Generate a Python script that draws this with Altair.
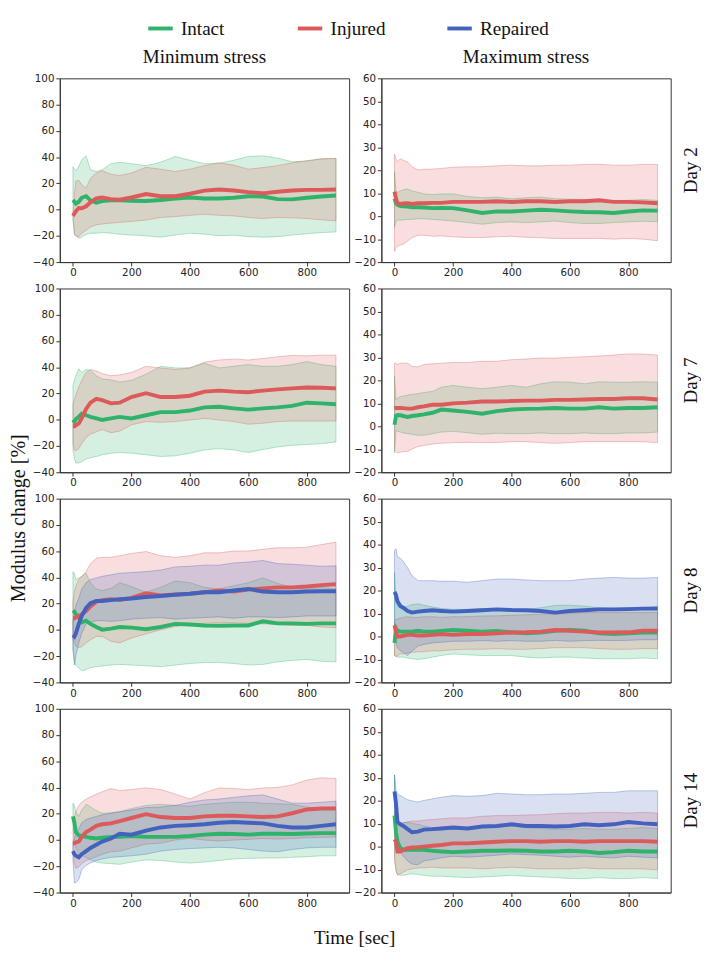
import altair as alt
import pandas as pd

# ---------------------------------------------------------------- data
TIME = [0, 5, 10, 20, 30, 45, 60, 80, 100, 130, 160, 200, 250, 300, 350,
        400, 450, 500, 550, 600, 650, 700, 750, 800, 850, 900]
GROUPS = ["Intact", "Injured", "Repaired"]
COLORS = ["#2fb36b", "#dc5a5a", "#4262bd"]
DAYS = ["Day 2", "Day 7", "Day 8", "Day 14"]
STRESS = ["Minimum stress", "Maximum stress"]
Y_TITLE = "Modulus change [%]"
X_TITLE = "Time [sec]"
Y_DOMAIN_MIN = [-40, 100]
Y_DOMAIN_MAX = [-20, 60]
Y_TICKS_MIN = [-40, -20, 0, 20, 40, 60, 80, 100]
Y_TICKS_MAX = [-20, -10, 0, 10, 20, 30, 40, 50, 60]
X_TICKS = [0, 200, 400, 600, 800]

D2_MIN_INTACT_MEAN = [7.3, 6, 4.5, 6, 9, 10.2, 7, 5.3, 6.5, 7, 7, 6.8, 6.5, 7.3, 8.5, 9.2, 8.5, 8.5, 9, 10.2, 10, 8, 7.8, 9, 10, 10.7]
D2_MIN_INTACT_LO = [-8, -18, -20, -22, -21, -19, -18, -18, -17.5, -18, -18.7, -19.4, -20, -21, -19.4, -18, -18.7, -19.9, -19.5, -20.6, -21, -20.6, -19.4, -18.4, -17.5, -17]
D2_MIN_INTACT_HI = [32.7, 31, 29.8, 33, 38, 41, 30.3, 29, 30.3, 35, 36, 35, 33.5, 36, 40.5, 37.6, 35, 35.4, 37.6, 40.5, 41, 39.3, 36.4, 37, 38.8, 39]
D2_MIN_INJURED_MEAN = [-4.8, -3, -1.2, 1.2, 1, 2.5, 5.5, 8.5, 9.2, 8, 7.5, 9.2, 11.9, 10.2, 10.2, 12.1, 14.5, 15.3, 14.5, 13.3, 12.4, 13.6, 14.5, 15, 15, 15.3]
D2_MIN_INJURED_LO = [-5, -19.4, -20, -20.8, -18, -15.8, -13.3, -11.6, -11, -10.3, -9.7, -9, -8, -6, -5.3, -4.4, -3.6, -4.4, -4.8, -6, -6.8, -6, -6.3, -6.8, -7.8, -8.5]
D2_MIN_INJURED_HI = [-4, 12, 21.8, 22.3, 19, 16.2, 23.8, 27.9, 29.6, 27, 26, 27.9, 32.2, 30.8, 29, 30.8, 33.5, 35.6, 33.9, 30.8, 32, 33.5, 35.6, 37.3, 38.5, 39]
D2_MAX_INTACT_MEAN = [7.6, 5.6, 4.9, 4.4, 4.3, 4.2, 3.9, 3.9, 3.75, 3.5, 3.6, 3.5, 2.5, 1.4, 2.1, 2, 2.4, 2.8, 2.5, 2.1, 1.8, 1.7, 1.4, 2, 2.5, 2.4]
D2_MAX_INTACT_LO = [-4.9, -2.1, -1.7, -1.8, -1.6, -1.4, -1.4, -1.1, -1.1, -1.4, -1.7, -2.1, -2.8, -3.5, -2.8, -2.5, -2.8, -2.5, -2.1, -2.8, -3.2, -3.2, -2.8, -2.5, -2.2, -2.4]
D2_MAX_INTACT_HI = [19.4, 11, 10.4, 11, 11.5, 11.8, 11, 10.4, 9.7, 9.4, 9.7, 9.7, 8.6, 8, 8.3, 7.6, 8, 8.3, 7.6, 7.4, 7.2, 6.9, 6.5, 6.9, 7.2, 6.9]
D2_MAX_INJURED_MEAN = [10.7, 7.6, 5.6, 5.3, 5.5, 5.6, 5.3, 5.6, 5.6, 5.8, 5.8, 6.2, 6.2, 6.2, 6.5, 6.2, 6.5, 6.5, 6.2, 6.5, 6.5, 6.9, 6.2, 6.2, 6, 5.6]
D2_MAX_INJURED_LO = [-15.3, -13.6, -13.2, -12.5, -12.2, -10.8, -9.4, -8.3, -8.3, -8.75, -8.6, -9, -9.3, -9.3, -9, -8.75, -9.2, -9.4, -9.7, -9.7, -9.7, -9.7, -10, -9.7, -10, -10.7]
D2_MAX_INJURED_HI = [27, 25, 23.6, 25, 24.3, 23.6, 21.5, 20.1, 20.4, 20.5, 20.8, 21.3, 21.5, 21.5, 21.9, 22.2, 21.9, 21.9, 22.2, 22.2, 22.5, 22.6, 22.2, 22.2, 22.5, 22.5]
D7_MIN_INTACT_MEAN = [0, -1.4, 0.5, 2.2, 4.6, 3.4, 2.2, 1, -0.2, 1, 2.2, 1, 3.4, 5.8, 5.8, 7, 9.4, 9.9, 8.7, 7.7, 8.7, 9.4, 10.6, 13, 12.5, 11.8]
D7_MIN_INTACT_LO = [-23, -30, -33, -33, -32, -30, -29, -28, -26.7, -25.5, -25, -25.5, -26.7, -28, -27.5, -25.5, -23, -22, -23, -25, -22.7, -20.7, -19.5, -18.8, -18.3, -16.9]
D7_MIN_INTACT_HI = [26.3, 30, 34, 38.8, 36, 38.3, 37.6, 33.5, 31, 30.4, 28.7, 30, 34.7, 40.7, 39.5, 39.5, 43, 39.5, 40.7, 42, 40.7, 40.7, 42, 44.3, 42, 40.7]
D7_MIN_INJURED_MEAN = [-5, -5, -4.3, -2.7, 1, 8.2, 13, 15.9, 14.9, 12.5, 13, 17.3, 20.2, 17.3, 17.3, 18.3, 21.4, 22.2, 21.4, 21, 22.2, 23.1, 23.9, 24.6, 24.4, 23.9]
D7_MIN_INJURED_LO = [-18.3, -23, -23.6, -22, -18.3, -13.5, -11, -9.2, -7.5, -9.9, -8.7, -3.9, -1.4, -2, -1.4, -0.2, 1, -0.2, -1.4, -3.4, -2.7, -1.4, -1, -1, -1, -1]
D7_MIN_INJURED_HI = [11.8, 15.4, 19, 25, 29.9, 36, 38.3, 37.1, 35.2, 33.5, 34.2, 36, 40.7, 39.5, 38.3, 39.5, 43.9, 45.5, 46.3, 45.5, 46.7, 48, 49, 48.7, 49.2, 49.2]
D7_MAX_INTACT_MEAN = [0.7, 4.5, 4.9, 4.8, 4.5, 4.1, 4.5, 4.8, 5.2, 5.9, 7.3, 6.9, 6.3, 5.5, 6.6, 7.3, 7.6, 7.7, 8, 7.7, 7.7, 8.3, 7.7, 8, 8, 8.3]
D7_MAX_INTACT_LO = [-11.6, -1.8, -2.1, -2.5, -2.9, -3.2, -3.5, -3.9, -3.9, -3.2, -2.5, -2.2, -2.8, -3.5, -3, -3.2, -3.2, -2.9, -3.2, -3.2, -2.9, -3.2, -3.2, -2.9, -2.9, -2.5]
D7_MAX_INTACT_HI = [22, 11.5, 12.2, 12.9, 13.2, 13.6, 13.9, 14.2, 14.7, 15.2, 17, 17.8, 17, 16.4, 17, 17.8, 17, 18.5, 19.4, 19.2, 18.5, 19.4, 19.2, 19.2, 19.4, 19.2]
D7_MAX_INJURED_MEAN = [7.7, 8, 8, 8, 7.9, 7.7, 7.7, 8.3, 8.7, 9.4, 9.4, 10, 10.3, 10.8, 10.8, 11, 11.2, 11.2, 11.5, 11.5, 11.7, 11.9, 11.9, 12.2, 12.2, 11.7]
D7_MAX_INJURED_LO = [-10.2, -10.9, -11.6, -11.3, -11, -10.9, -9.9, -8.8, -8.4, -7.7, -7.4, -7.1, -7, -7.1, -7, -6.7, -6.7, -7.1, -7.4, -7.1, -6.7, -6.7, -6.7, -6.7, -6.7, -7.1]
D7_MAX_INJURED_HI = [27.5, 27.5, 26.9, 27.5, 27.5, 27.5, 26.1, 25.9, 26.9, 27.2, 27.5, 27.8, 27.8, 28.3, 28.3, 29, 29.3, 29.7, 29.7, 30, 30.3, 30.6, 31, 31.5, 31.5, 31]
D8_MIN_INTACT_MEAN = [14.7, 13.8, 11.8, 9.4, 5.8, 7, 4.6, 2.2, 0.2, 1, 2.2, 1.7, 0.5, 2.2, 4.6, 4.1, 3.4, 3.1, 3.4, 3.4, 6.5, 5, 5, 4.6, 5, 5]
D8_MIN_INTACT_LO = [-14.7, -24.4, -26.8, -29.2, -31.2, -30.4, -28.7, -28, -27.5, -26.8, -26.3, -26.8, -27.3, -28, -26.8, -25.6, -24.9, -24.9, -25.6, -26.8, -26.3, -24.4, -23.2, -22.5, -23.9, -24.4]
D8_MIN_INTACT_HI = [44.4, 43.2, 38.4, 39.6, 40.8, 43.2, 36, 31.2, 30, 31.6, 36, 33, 28.7, 32.4, 37.2, 36, 32.4, 31.2, 33.6, 36, 39.6, 35.5, 32.4, 31.2, 32.4, 31.2]
D8_MIN_INJURED_MEAN = [8.9, 8.9, 9.4, 10.6, 11.8, 14.3, 17.9, 21.5, 22.7, 23.4, 22.7, 24.4, 28, 26.3, 27, 27.5, 28.7, 30, 29.2, 30.7, 31.6, 32.4, 32.4, 33.1, 34.1, 34.8]
D8_MIN_INJURED_LO = [-7.5, -9.9, -12.3, -13.5, -12.8, -9.9, -7.5, -5, -5, -8.7, -9.9, -6.3, -3, 0, 2.5, 4, 5, 5.5, 5.5, 5, 4.6, 4.1, 3.4, 3.4, 2.2, 1.7]
D8_MIN_INJURED_HI = [21.5, 28.7, 33.6, 38.4, 40.8, 44.4, 50.5, 54.6, 55.3, 55.3, 56.5, 58.2, 59.7, 56.5, 55.3, 56.5, 58.7, 58.7, 60.1, 60.1, 61.4, 62.6, 62.6, 63, 65, 66.9]
D8_MIN_REPAIRED_MEAN = [-3.9, -5, -2.7, 4.6, 10.6, 16.7, 20.3, 22, 22, 22.7, 23.4, 23.9, 25.1, 25.8, 26.8, 27.5, 28.7, 28.7, 30, 31.2, 29.2, 28.7, 28.7, 29.2, 29.5, 29.5]
D8_MIN_REPAIRED_LO = [-14.7, -26.8, -19.6, -9.9, -2.7, 4.6, 5.8, 7, 7, 6.5, 7, 8.2, 8.9, 9.4, 8.2, 8.9, 9.4, 9.9, 8.9, 9.9, 9.9, 9.4, 9.9, 10.6, 10.6, 10.6]
D8_MIN_REPAIRED_HI = [7, 11.8, 19, 23.9, 31.2, 36, 38.4, 39.6, 40.8, 42, 43.2, 43.7, 44.4, 45.6, 48, 48.5, 49.3, 49.3, 51, 51.7, 52.9, 50.5, 50, 49.3, 48.5, 48.8]
D8_MAX_INTACT_MEAN = [-2.8, 3.5, 2.5, 2.1, 2.1, 2.1, 2.1, 2.5, 2.1, 2.1, 2.4, 2.8, 2.5, 2.1, 2.4, 1.8, 1.4, 1.7, 2.5, 2.8, 2.5, 1.4, 1.1, 1.4, 1.7, 1.7]
D8_MAX_INTACT_LO = [-8.3, -8.3, -9, -9, -9, -9.4, -9.7, -10, -9.7, -9, -8.3, -7.6, -8, -8.3, -8.3, -8.3, -9, -9.4, -9, -9, -9.4, -9.7, -9.7, -9.7, -9.4, -9.7]
D8_MAX_INTACT_HI = [27.8, 15.3, 13.2, 12.5, 12.5, 13.2, 13.9, 14.2, 13.6, 12.8, 12.2, 11.8, 11.8, 12.2, 11.8, 11.8, 11.8, 12.5, 13.5, 13.6, 13.2, 12.5, 12.2, 12.5, 12.5, 13.2]
D8_MAX_INJURED_MEAN = [4.9, 2.1, 0, 0, 0.3, 0.7, 0.7, 0.4, 0.4, 0.7, 1, 0.7, 1.1, 1.1, 1.4, 1.7, 1.8, 2.1, 2.8, 2.5, 2.1, 1.7, 1.7, 1.8, 2.5, 2.5]
D8_MAX_INJURED_LO = [-8.3, -9, -8.3, -7.6, -7.6, -7.2, -6.9, -6.7, -6.6, -6.25, -6.25, -5.8, -5.6, -5.6, -5.3, -5.6, -5.6, -5.3, -4.9, -4.9, -4.9, -5.3, -5.6, -5.6, -5.3, -5.3]
D8_MAX_INJURED_HI = [5.6, 7.6, 7.6, 8, 8.3, 8.6, 8.3, 8.3, 8.6, 8.6, 8.3, 8.6, 8.6, 8.9, 9, 9.2, 9.4, 9.7, 9.7, 10, 10.4, 10.4, 10.4, 10.4, 10.4, 10.4]
D8_MAX_REPAIRED_MEAN = [19.4, 18, 15.3, 13.2, 12.5, 11.1, 10.4, 10.8, 11.1, 11.4, 11.1, 10.8, 11.1, 11.4, 11.8, 11.5, 11.4, 11.1, 10.4, 11.1, 11.4, 11.8, 11.8, 11.9, 12.1, 12.1]
D8_MAX_REPAIRED_LO = [1.4, -2.8, -4.9, -6.25, -6.9, -8.3, -6.25, -4.2, -3.5, -2.8, -2.5, -2.1, -2.1, -1.8, -2.1, -1.8, -2.1, -2.1, -1.7, -2.1, -1.8, -1.7, -1.8, -1.7, -1.4, -1.4]
D8_MAX_REPAIRED_HI = [37.5, 38.2, 34.7, 34, 32.6, 29.9, 26.4, 24.3, 24.3, 24.3, 24, 24, 23.6, 24.3, 25, 25, 24.6, 24.3, 24.3, 24.3, 25, 25.4, 25.7, 25.4, 25.4, 25.7]
D14_MIN_INTACT_MEAN = [18, 13.2, 6, 3.6, 3.1, 2.4, 1.7, 1.2, 1.7, 2.4, 2.4, 3.1, 2.4, 2.4, 2.4, 3.1, 4.1, 4.8, 4.6, 4.1, 4.8, 4.8, 4.6, 5, 5.3, 5.3]
D14_MIN_INTACT_LO = [8.4, -1.2, -6, -10.8, -12, -13.2, -15.1, -16.8, -17.5, -18, -18.5, -16.8, -15.1, -15.6, -16.8, -17.5, -16.8, -15.6, -14.4, -13.9, -13.7, -13.7, -13.2, -12.7, -12, -12]
D14_MIN_INTACT_HI = [28.1, 26.4, 21.6, 18, 22.8, 27.2, 25.2, 22.4, 20.4, 20.8, 21.6, 24, 26.4, 27.2, 26.4, 25.7, 27.2, 28.1, 28.8, 28.8, 28.1, 27.6, 27.2, 25.2, 24, 23.3]
D14_MIN_INJURED_MEAN = [-2.4, -2.4, -1.7, -1.2, 2.4, 6, 7.9, 10.8, 12, 12.7, 14.4, 16.8, 19.7, 17.5, 16.8, 16.8, 18, 18.5, 18.5, 18, 17.5, 18, 20.4, 23.3, 24, 24]
D14_MIN_INJURED_LO = [-10.8, -18, -21.6, -20.4, -18, -15.6, -14.4, -12.7, -10.8, -8.9, -8.4, -6, -3.1, -2.4, 0, 1.2, 0, -0.7, 0, 0.5, 1.2, 0.7, 1.2, 1.7, 2, 2.4]
D14_MIN_INJURED_HI = [6, 16.8, 21.6, 26.4, 28.8, 31.2, 32.9, 34.9, 36.8, 39.2, 37.7, 38.5, 39.7, 38.5, 35.1, 31.2, 36.1, 39.7, 39.2, 38.5, 39.7, 40.1, 42, 45.7, 47.4, 46.9]
D14_MIN_REPAIRED_MEAN = [-8.4, -10.8, -12, -13.2, -10.8, -8.4, -6, -3.6, -1.2, 1.2, 4.8, 4.1, 7.2, 9.6, 10.8, 11.3, 12, 13.2, 13.7, 13.2, 12.7, 10.8, 9.6, 9.6, 10.8, 12]
D14_MIN_REPAIRED_LO = [-15.6, -32.5, -32.5, -30, -22.8, -19.2, -17.5, -15.6, -14.4, -13.2, -12.7, -12, -10.8, -8.4, -7.2, -6.5, -6, -5.5, -6, -7.2, -8.4, -8.9, -7.2, -6, -5.5, -5.5]
D14_MIN_REPAIRED_HI = [-1.2, 1.2, 4.8, 8.4, 13.2, 15.6, 16.8, 18, 19.2, 20.4, 21.6, 22.8, 24.8, 25.2, 26.4, 28.8, 30.5, 31.2, 32.5, 33.7, 34.4, 31.2, 28.1, 28.1, 28.8, 29.6]
D14_MAX_INTACT_MEAN = [13.5, 6.25, 2.1, -0.7, -1.4, -1.4, -1.4, -1.4, -1.4, -1.8, -2.1, -2.4, -2.1, -1.8, -1.8, -1.7, -1.8, -2.1, -2.1, -1.8, -2.1, -2.8, -2.4, -1.8, -2.1, -2.1]
D14_MAX_INTACT_LO = [-3.5, -10.4, -12.1, -12.5, -12.5, -12.1, -11.8, -12.1, -12.5, -12.9, -12.9, -13.2, -13.5, -13.2, -12.9, -12.5, -12.9, -13.2, -13.5, -13.9, -13.9, -13.5, -13.9, -13.9, -13.5, -13.9]
D14_MAX_INTACT_HI = [31.25, 15.9, 10.4, 9.7, 10.4, 10.7, 10.1, 9.7, 9, 8.3, 7.9, 7.4, 7.6, 8.3, 8.75, 9, 8.3, 7.9, 7.6, 7.6, 7.9, 7.6, 7.6, 7.9, 8.3, 7.9]
D14_MAX_INJURED_MEAN = [3.2, 2.1, -2.1, -2.1, -1.4, -0.7, -0.4, -0.3, 0, 0.4, 0.7, 1.4, 1.4, 1.8, 2.1, 2.4, 2.4, 2.1, 2.4, 2.4, 2.1, 2.4, 2.4, 2.4, 2.4, 2.1]
D14_MAX_INJURED_LO = [-6.25, -10.4, -12.5, -11.8, -11.1, -10.1, -9.7, -9.3, -9.3, -9, -9.3, -9.3, -9.3, -9.7, -9.3, -9, -9.3, -9.7, -9.7, -9.7, -9.3, -9.7, -9.7, -9.7, -9.7, -10.1]
D14_MAX_INJURED_HI = [14.6, 13.2, 10.4, 10.1, 10.4, 10.7, 11.1, 11.1, 11.5, 11.8, 12.1, 12.5, 12.5, 13.2, 13.5, 13.5, 13.75, 13.9, 14.3, 14.6, 14.6, 14.9, 14.9, 14.6, 14.9, 14.6]
D14_MAX_REPAIRED_MEAN = [24, 18.75, 10.7, 9.7, 9, 7.6, 6.25, 6.5, 7.4, 7.6, 7.9, 8.3, 7.9, 8.75, 9, 9.7, 9, 9, 8.75, 9, 9.7, 9.3, 9.7, 10.7, 10.1, 9.7]
D14_MAX_REPAIRED_LO = [14.6, 2.1, 0, -2.1, -4.2, -6.25, -7.6, -7.9, -6.25, -5.6, -4.9, -4.2, -4.6, -4.2, -3.75, -3.2, -3.5, -3.75, -4.2, -4.6, -4.2, -4.6, -4.9, -4.2, -4.6, -4.9]
D14_MAX_REPAIRED_HI = [31.25, 24.3, 22.9, 22.2, 21.5, 20.4, 19.9, 19.4, 20.1, 20.8, 21.5, 22.2, 21.9, 22.2, 23.2, 22.9, 22.6, 22.6, 22.9, 22.9, 23.2, 23.6, 23.6, 24.3, 24.3, 24.3]

SERIES = {
    ("Day 2", "Minimum stress", "Intact"): (D2_MIN_INTACT_MEAN, D2_MIN_INTACT_LO, D2_MIN_INTACT_HI),
    ("Day 2", "Minimum stress", "Injured"): (D2_MIN_INJURED_MEAN, D2_MIN_INJURED_LO, D2_MIN_INJURED_HI),
    ("Day 2", "Maximum stress", "Intact"): (D2_MAX_INTACT_MEAN, D2_MAX_INTACT_LO, D2_MAX_INTACT_HI),
    ("Day 2", "Maximum stress", "Injured"): (D2_MAX_INJURED_MEAN, D2_MAX_INJURED_LO, D2_MAX_INJURED_HI),
    ("Day 7", "Minimum stress", "Intact"): (D7_MIN_INTACT_MEAN, D7_MIN_INTACT_LO, D7_MIN_INTACT_HI),
    ("Day 7", "Minimum stress", "Injured"): (D7_MIN_INJURED_MEAN, D7_MIN_INJURED_LO, D7_MIN_INJURED_HI),
    ("Day 7", "Maximum stress", "Intact"): (D7_MAX_INTACT_MEAN, D7_MAX_INTACT_LO, D7_MAX_INTACT_HI),
    ("Day 7", "Maximum stress", "Injured"): (D7_MAX_INJURED_MEAN, D7_MAX_INJURED_LO, D7_MAX_INJURED_HI),
    ("Day 8", "Minimum stress", "Intact"): (D8_MIN_INTACT_MEAN, D8_MIN_INTACT_LO, D8_MIN_INTACT_HI),
    ("Day 8", "Minimum stress", "Injured"): (D8_MIN_INJURED_MEAN, D8_MIN_INJURED_LO, D8_MIN_INJURED_HI),
    ("Day 8", "Minimum stress", "Repaired"): (D8_MIN_REPAIRED_MEAN, D8_MIN_REPAIRED_LO, D8_MIN_REPAIRED_HI),
    ("Day 8", "Maximum stress", "Intact"): (D8_MAX_INTACT_MEAN, D8_MAX_INTACT_LO, D8_MAX_INTACT_HI),
    ("Day 8", "Maximum stress", "Injured"): (D8_MAX_INJURED_MEAN, D8_MAX_INJURED_LO, D8_MAX_INJURED_HI),
    ("Day 8", "Maximum stress", "Repaired"): (D8_MAX_REPAIRED_MEAN, D8_MAX_REPAIRED_LO, D8_MAX_REPAIRED_HI),
    ("Day 14", "Minimum stress", "Intact"): (D14_MIN_INTACT_MEAN, D14_MIN_INTACT_LO, D14_MIN_INTACT_HI),
    ("Day 14", "Minimum stress", "Injured"): (D14_MIN_INJURED_MEAN, D14_MIN_INJURED_LO, D14_MIN_INJURED_HI),
    ("Day 14", "Minimum stress", "Repaired"): (D14_MIN_REPAIRED_MEAN, D14_MIN_REPAIRED_LO, D14_MIN_REPAIRED_HI),
    ("Day 14", "Maximum stress", "Intact"): (D14_MAX_INTACT_MEAN, D14_MAX_INTACT_LO, D14_MAX_INTACT_HI),
    ("Day 14", "Maximum stress", "Injured"): (D14_MAX_INJURED_MEAN, D14_MAX_INJURED_LO, D14_MAX_INJURED_HI),
    ("Day 14", "Maximum stress", "Repaired"): (D14_MAX_REPAIRED_MEAN, D14_MAX_REPAIRED_LO, D14_MAX_REPAIRED_HI),
}

rows = []
for (day, stress, group), (mean, lo, hi) in SERIES.items():
    for t, m, l, h in zip(TIME, mean, lo, hi):
        rows.append({"day": day, "stress": stress, "group": group,
                     "t": t, "mean": m, "lo": l, "hi": h})
df = pd.DataFrame(rows)
legend_df = pd.DataFrame({"group": GROUPS})

SERIF = "Liberation Serif"
SANS = "DejaVu Sans"
TXT = 19.5
PW, PH = 296, 188
GRID_H = 868

color_scale = alt.Scale(domain=GROUPS, range=COLORS)


def panel(day, stress, top):
    d = df[(df["day"] == day) & (df["stress"] == stress)]
    present = [g for g in GROUPS if g in set(d["group"])]
    is_min = stress == "Minimum stress"
    x = alt.X("t:Q", scale=alt.Scale(domain=[-45, 945], nice=False, zero=False),
              axis=alt.Axis(values=X_TICKS, title=None, format="d"))
    yscale = alt.Scale(domain=Y_DOMAIN_MIN if is_min else Y_DOMAIN_MAX, nice=False, zero=False)
    yaxis = alt.Axis(values=Y_TICKS_MIN if is_min else Y_TICKS_MAX, title=None, format="d")
    layers = []
    for g in present:
        layers.append(
            alt.Chart().mark_area(fillOpacity=0.2, strokeWidth=1, strokeOpacity=0.35)
            .encode(x=x, y=alt.Y("lo:Q", scale=yscale, axis=yaxis), y2="hi:Q",
                    fill=alt.Fill("group:N", scale=color_scale, legend=None),
                    stroke=alt.Stroke("group:N", scale=color_scale, legend=None))
            .transform_filter(alt.datum.group == g)
        )
    for g in present:
        layers.append(
            alt.Chart().mark_line(strokeWidth=4)
            .encode(x=x, y=alt.Y("mean:Q", scale=yscale, axis=yaxis),
                    color=alt.Color("group:N", scale=color_scale, legend=None))
            .transform_filter(alt.datum.group == g)
        )
    if not is_min:
        layers.append(
            alt.Chart(pd.DataFrame({"label": [day]})).mark_text(
                angle=270, align="center", baseline="middle",
                font=SERIF, fontSize=TXT, color="#111"
            ).encode(x=alt.value(PW + 21), y=alt.value(PH / 2), text="label:N")
        )
    ch = alt.layer(*layers, data=d).properties(width=PW, height=PH)
    if top:
        ch = ch.properties(title=alt.TitleParams(stress, font=SERIF, fontSize=TXT,
                                                 fontWeight="normal", color="#111",
                                                 anchor="middle", offset=6))
    return ch


lx = alt.X("group:N", scale=alt.Scale(domain=GROUPS, type="point", padding=2.07), axis=None)
legend_sym = alt.Chart(legend_df).mark_point(
    shape="stroke", size=625, strokeWidth=4, filled=False, opacity=1
).encode(x=lx, y=alt.value(9), color=alt.Color("group:N", scale=color_scale, legend=None))
legend_txt = alt.Chart(legend_df).mark_text(
    align="left", baseline="middle", dx=21, font=SERIF, fontSize=TXT, color="#111"
).encode(x=lx, y=alt.value(10), text="group:N")
legend_chart = alt.layer(legend_sym, legend_txt).properties(
    width=612, height=18, view=alt.ViewBackground(stroke="transparent")
)

row_charts = []
for i, day in enumerate(DAYS):
    left = panel(day, "Minimum stress", i == 0)
    right = panel(day, "Maximum stress", i == 0)
    row_charts.append(alt.hconcat(left, right, spacing=3))

grid = alt.vconcat(*row_charts, spacing=4)

# y-axis caption in a narrow side column, reading upwards
ylab = alt.Chart(pd.DataFrame({"label": [Y_TITLE]})).mark_text(
    angle=270, align="center", baseline="middle", font=SERIF, fontSize=TXT + 1, color="#111"
).encode(x=alt.value(8), y=alt.value(450), text="label:N").properties(
    width=14, height=GRID_H, view=alt.ViewBackground(stroke="transparent")
)

body = alt.hconcat(ylab, grid, spacing=2)

chart = alt.vconcat(legend_chart, body, spacing=8).properties(
    title=alt.TitleParams(X_TITLE, orient="bottom", font=SERIF, fontSize=TXT,
                          fontWeight="normal", color="#111", anchor="middle", offset=2),
    padding=0,
).configure_view(stroke="#333", strokeWidth=1).configure_axis(
    labelFont=SANS, labelFontSize=10.5, labelColor="#222", tickColor="#333",
    domainColor="#333", tickSize=4, grid=False, labelPadding=2,
)

chart.save("out.html", embed_options={"renderer": "svg", "actions": False})
